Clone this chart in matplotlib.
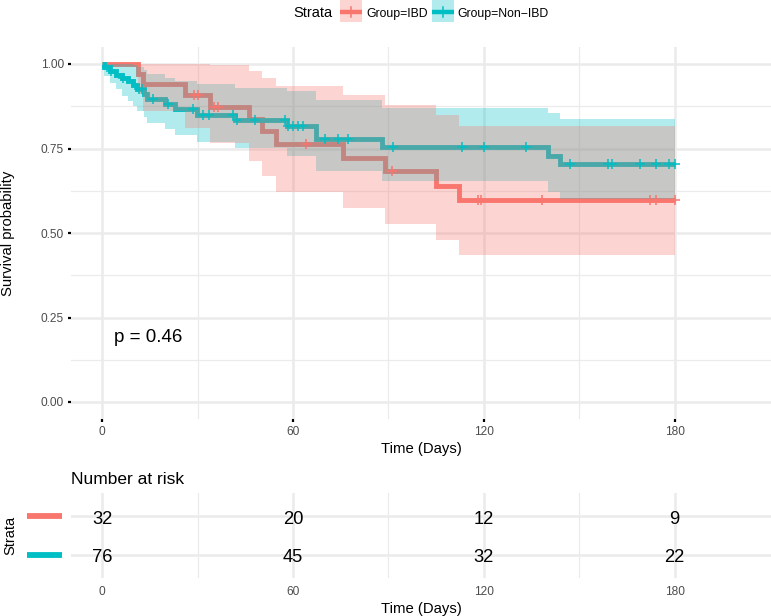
import matplotlib
matplotlib.use('Agg')
import matplotlib.pyplot as plt
import matplotlib.transforms as mtransforms
from matplotlib.lines import Line2D
from matplotlib.patches import Rectangle
import numpy as np

plt.rcParams['font.family'] = ['Liberation Sans', 'DejaVu Sans']

# ---------------- data ----------------
ibd_time  = [0, 11.3, 12.9, 26.0, 33.9, 46.2, 50.1, 54.8, 75.8, 88.9, 105.0, 112.2]
ibd_surv  = [1.0, 0.970, 0.940, 0.907, 0.873, 0.838, 0.801, 0.764, 0.722, 0.682, 0.639, 0.597]
ibd_lower = [1.0, 0.910, 0.860, 0.812, 0.765, 0.713, 0.668, 0.621, 0.573, 0.527, 0.480, 0.434]
ibd_upper = [1.0, 1.0, 1.0, 1.0, 0.998, 0.979, 0.959, 0.936, 0.908, 0.880, 0.850, 0.817]
ibd_end = 180
ibd_censor = [28.9, 30.2, 35.2, 36.3, 64.1, 91.0, 118.2, 119.0, 138.3, 172.2, 174.1, 180]

non_time  = [0, 0.5, 2.4, 4.5, 6.1, 8.2, 9.8, 10.8, 13.2, 14.0, 19.7, 22.9, 29.7, 41.7,
             58.0, 67.1, 88.0, 140.2, 143.9]
non_surv  = [1.0, 0.990, 0.980, 0.968, 0.958, 0.949, 0.939, 0.927, 0.912, 0.895, 0.881,
             0.867, 0.850, 0.833, 0.816, 0.779, 0.754, 0.729, 0.704]
non_lower = [1.0, 0.965, 0.945, 0.925, 0.905, 0.890, 0.875, 0.860, 0.843, 0.825, 0.807,
             0.790, 0.770, 0.752, 0.729, 0.684, 0.653, 0.621, 0.600]
non_upper = [1.0, 1.0, 1.0, 1.0, 1.0, 1.0, 0.996, 0.990, 0.981, 0.970, 0.960,
             0.951, 0.941, 0.930, 0.920, 0.893, 0.871, 0.855, 0.836]
non_end = 180
non_censor = [2.9, 6.6, 11.5, 12.4, 16.1, 20.8, 28.6, 31.8, 33.7, 41.2, 42.3, 48.0, 57.5,
              58.5, 60.1, 61.6, 63.2, 70.0, 74.2, 77.4, 91.3, 113.0, 120.0, 133.2, 147.0,
              159.1, 160.3, 169.1, 174.1, 178.2, 180]

group_labels = ['Group=IBD', 'Group=Non\u2212IBD']
risk_times = [0, 60, 120, 180]
ibd_risk = [32, 20, 12, 9]
non_risk = [76, 45, 32, 22]
p_label = 'p = 0.46'

RED = '#F8766D'
TEAL = '#00BFC4'
GRID = '#EBEBEB'
TICKC = '#4D4D4D'

W, H = 771, 616
fig = plt.figure(figsize=(W / 100, H / 100), dpi=100)

def fx(x):
    return x / W

def fy(y):
    return 1 - y / H

XLIM = (-9.8, 210.3)

# ---------------- main survival panel ----------------
ax = fig.add_axes([fx(71), fy(418.9), fx(771) - fx(71), fy(47.1) - fy(418.9)])
ax.set_xlim(*XLIM)
ax.set_ylim(-0.05, 1.05)
ax.set_xticks(risk_times)
ax.set_xticks([30, 90, 150], minor=True)
ax.set_yticks([0, 0.25, 0.5, 0.75, 1.0])
ax.set_yticklabels(['0.00', '0.25', '0.50', '0.75', '1.00'])
ax.set_yticks([0.125, 0.375, 0.625, 0.875], minor=True)
ax.grid(which='major', color=GRID, lw=1.8)
ax.grid(which='minor', color=GRID, lw=0.9)
ax.set_axisbelow(True)
for sp in ax.spines.values():
    sp.set_visible(False)
ax.tick_params(which='major', length=2.5, width=1.6, color='black',
               labelsize=8.6, labelcolor=TICKC, pad=2.7)
ax.tick_params(which='minor', length=0)

groups = [
    (ibd_time, ibd_surv, ibd_lower, ibd_upper, ibd_end, ibd_censor, RED, 4),
    (non_time, non_surv, non_lower, non_upper, non_end, non_censor, TEAL, 3),
]
for t, s, lo, up, end, cens, col, zr in groups:
    tt = list(t) + [end]
    ss = list(s) + [s[-1]]
    ax.step(tt, ss, where='post', color=col, lw=3.5, zorder=2,
            solid_joinstyle='miter', solid_capstyle='butt')
for t, s, lo, up, end, cens, col, zr in groups:
    tt = list(t) + [end]
    ax.fill_between(tt, list(lo) + [lo[-1]], list(up) + [up[-1]], step='post',
                    color=col, alpha=0.3, lw=0, zorder=zr)
for t, s, lo, up, end, cens, col, zr in groups:
    idx = np.searchsorted(np.array(t), np.array(cens), side='right') - 1
    ax.plot(cens, np.array(s)[idx], linestyle='none', marker='+', ms=7.5, mew=1.1,
            color=col, zorder=6)

ax.text(3.7, 0.178, p_label, fontsize=13.5, ha='left', va='baseline')

ax.set_xlabel('Time (Days)', fontsize=10.7)
ax.xaxis.set_label_coords(0.5, (418.9 - 453.3) / 371.8)
ax.xaxis.label.set_va('baseline')
ax.set_ylabel('Survival probability', fontsize=10.7)
ax.yaxis.set_label_coords((8.5 - 71) / 700, 0.5)
ax.yaxis.label.set_va('center')

# ---------------- risk table ----------------
rax = fig.add_axes([fx(71), fy(578), fx(771) - fx(71), fy(493) - fy(578)])
rax.set_xlim(*XLIM)
rax.set_ylim(0.4, 2.6)
rax.set_xticks(risk_times)
rax.set_xticks([30, 90, 150], minor=True)
rax.set_yticks([1, 2])
rax.set_yticklabels(['', ''])
rax.grid(which='major', color=GRID, lw=1.8)
rax.grid(which='minor', axis='x', color=GRID, lw=0.9)
rax.set_axisbelow(True)
for sp in rax.spines.values():
    sp.set_visible(False)
rax.tick_params(which='both', length=0, labelsize=8.6, labelcolor=TICKC)
rax.tick_params(axis='x', pad=5.8)

num_tr = mtransforms.offset_copy(rax.transData, fig=fig, y=-7.5, units='dots')
for rowy, vals in [(2, ibd_risk), (1, non_risk)]:
    for tx, v in zip(risk_times, vals):
        rax.text(tx, rowy, str(v), fontsize=13.2, ha='center', va='baseline',
                 transform=num_tr)

bar_tr = mtransforms.blended_transform_factory(fig.transFigure, rax.transData)
for rowy, col in [(2, RED), (1, TEAL)]:
    fig.add_artist(Line2D([fx(27), fx(62)], [rowy, rowy], transform=bar_tr,
                          color=col, lw=4.2, solid_capstyle='butt'))

rax.set_xlabel('Time (Days)', fontsize=10.7)
rax.xaxis.set_label_coords(0.5, (578 - 613.3) / 85)
rax.xaxis.label.set_va('baseline')
rax.set_ylabel('Strata', fontsize=10.5)
rax.yaxis.set_label_coords((10.5 - 71) / 700, 0.5)
rax.yaxis.label.set_va('center')

fig.text(fx(71), fy(484), 'Number at risk', fontsize=12.5, ha='left', va='baseline')

# ---------------- legend at top ----------------
fig.text(fx(293), fy(17.3), 'Strata', fontsize=10.5, ha='left', va='baseline')
keys = [(340, RED, group_labels[0], 366), (432, TEAL, group_labels[1], 457)]
for kx, col, lab, tx in keys:
    fig.add_artist(Rectangle((fx(kx), fy(22)), 22 / W, 22 / H, transform=fig.transFigure,
                             facecolor=col, alpha=0.3, lw=0))
    fig.add_artist(Line2D([fx(kx), fx(kx + 22)], [fy(11.5), fy(11.5)],
                          transform=fig.transFigure, color=col, lw=3.2,
                          solid_capstyle='butt'))
    fig.add_artist(Line2D([fx(kx + 11), fx(kx + 11)], [fy(6.5), fy(16.5)],
                          transform=fig.transFigure, color=col, lw=1.1))
    fig.text(fx(tx), fy(16.7), lab, fontsize=8.8, ha='left', va='baseline')

fig.savefig('out.png', dpi=100)
